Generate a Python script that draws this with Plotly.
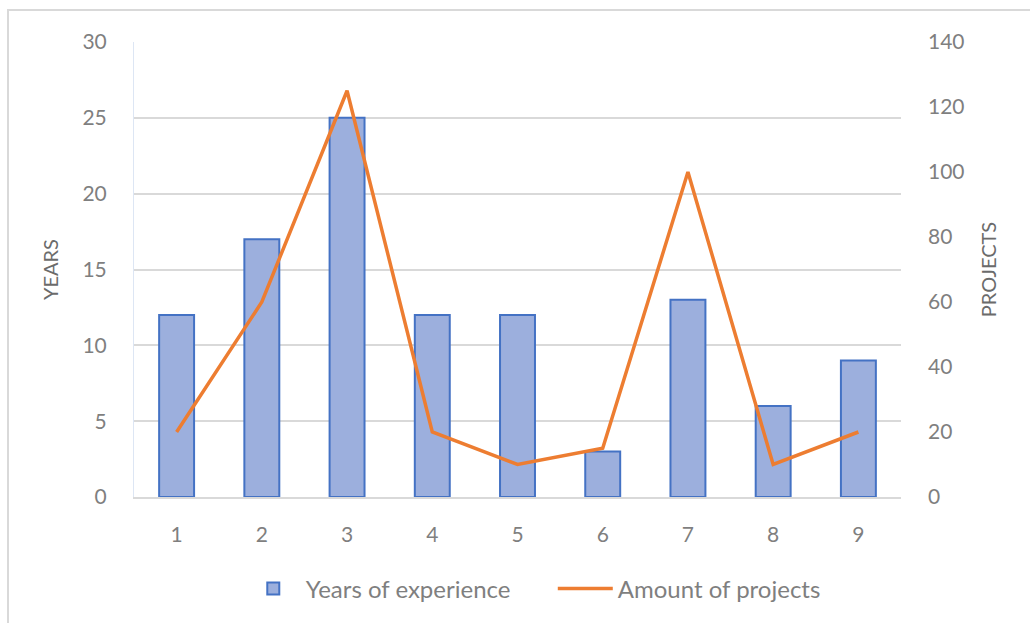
import plotly.graph_objects as go

categories = ["1", "2", "3", "4", "5", "6", "7", "8", "9"]
years = [12, 17, 25, 12, 12, 3, 13, 6, 9]
projects = [20, 60, 125, 20, 10, 15, 100, 10, 20]

FONT = "Lato"
TICK = "#7f7f7f"
TITLE = "#6b6b6b"

fig = go.Figure()
fig.add_trace(go.Bar(
    x=categories, y=years, name="Years of experience",
    marker=dict(color="#9cafdd", line=dict(color="#4472C4", width=2)),
    width=0.41, yaxis="y",
))
fig.add_trace(go.Scatter(
    x=categories, y=projects, name="Amount of projects",
    mode="lines", line=dict(color="#ED7D31", width=3.5), yaxis="y2",
))

W, H = 1030, 623
L, R, T, B = 134, 129, 42, 126
pw, ph = W - L - R, H - T - B

fig.update_layout(
    width=W, height=H,
    margin=dict(l=L, r=R, t=T, b=B, pad=0),
    paper_bgcolor="white", plot_bgcolor="white",
    font=dict(family=FONT, size=21, color=TICK),
    bargap=0.59,
    showlegend=True,
    legend=dict(orientation="h", x=0.546, xanchor="center", y=-0.202, yanchor="middle",
                font=dict(size=24, color=TICK), itemwidth=55, traceorder="normal",
                entrywidth=242),
    xaxis=dict(showgrid=False, showline=True, linecolor="#d9d9d9", linewidth=1.5,
               ticks="", ticklabelstandoff=18, tickfont=dict(size=21, color=TICK)),
    yaxis=dict(range=[0, 30], dtick=5, showgrid=True, gridcolor="#d9d9d9", gridwidth=1.5,
               zeroline=False, showline=True, linecolor="#dde6f4", linewidth=1,
               ticks="", ticklabelstandoff=22, tickfont=dict(size=21, color=TICK),
               title=dict(text="YEARS", font=dict(size=20, color=TITLE), standoff=18)),
    yaxis2=dict(range=[0, 140], dtick=20, overlaying="y", side="right", showgrid=False,
                zeroline=False, showline=False, ticks="", ticklabelstandoff=26,
                tickfont=dict(size=21, color=TICK),
                title=dict(text="PROJECTS", font=dict(size=20, color=TITLE), standoff=18)),
    shapes=[dict(type="rect", xref="paper", yref="paper",
                 x0=(8 - L) / pw, x1=(W + 20 - L) / pw,
                 y0=-(H + 20 - T - ph) / ph, y1=(H - B - 10) / ph,
                 line=dict(color="#d9d9d9", width=2), fillcolor="rgba(0,0,0,0)",
                 layer="below")],
)

fig.write_html("out.html")
